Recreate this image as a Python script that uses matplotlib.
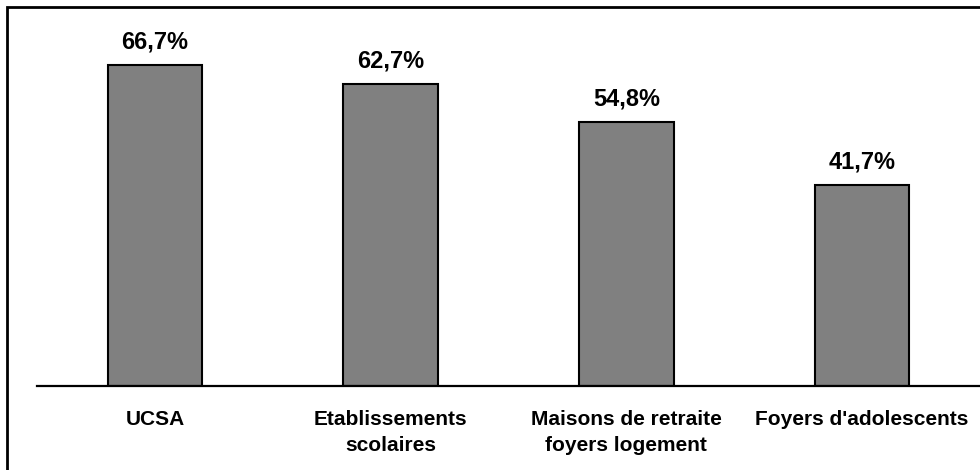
import matplotlib.pyplot as plt
from matplotlib.patches import Rectangle
import numpy as np

plt.rcParams['font.family'] = ['Liberation Sans', 'DejaVu Sans']

# Data
categories = ["UCSA", "Etablissements\nscolaires", "Maisons de retraite\nfoyers logement", "Foyers d'adolescents"]
values = [66.7, 62.7, 54.8, 41.7]
value_labels = ["66,7%", "62,7%", "54,8%", "41,7%"]

fig = plt.figure(figsize=(9.8, 4.7), dpi=100)
ax = fig.add_axes([37 / 980, 84 / 470, 943 / 980, 80 * 4.81 / 470])

x = np.arange(len(categories))
bars = ax.bar(x, values, width=0.40, color="#808080", edgecolor="black", linewidth=1.5)

# Value labels above the bars
for rect, lab in zip(bars, value_labels):
    ax.annotate(lab, (rect.get_x() + rect.get_width() / 2, rect.get_height()),
                xytext=(0, 12), textcoords="offset points",
                ha="center", va="baseline", fontsize=17, fontweight="bold")

ax.set_xlim(-0.5, len(categories) - 0.5)
ax.set_ylim(0, 80)
ax.set_xticks(x)
ax.set_xticklabels(categories, fontsize=15, fontweight="bold", linespacing=1.5)
ax.tick_params(axis="x", length=0, pad=17)
ax.set_yticks([])

for side in ["top", "right", "left"]:
    ax.spines[side].set_visible(False)
ax.spines["bottom"].set_linewidth(1.6)

# Outer frame (only top and left are inside the picture)
fig.patches.append(Rectangle((7 / 980, -0.1), 1.2, (470 - 7) / 470 + 0.1,
                             transform=fig.transFigure, fill=False,
                             edgecolor="black", linewidth=2))

plt.savefig("out.png", dpi=100)
